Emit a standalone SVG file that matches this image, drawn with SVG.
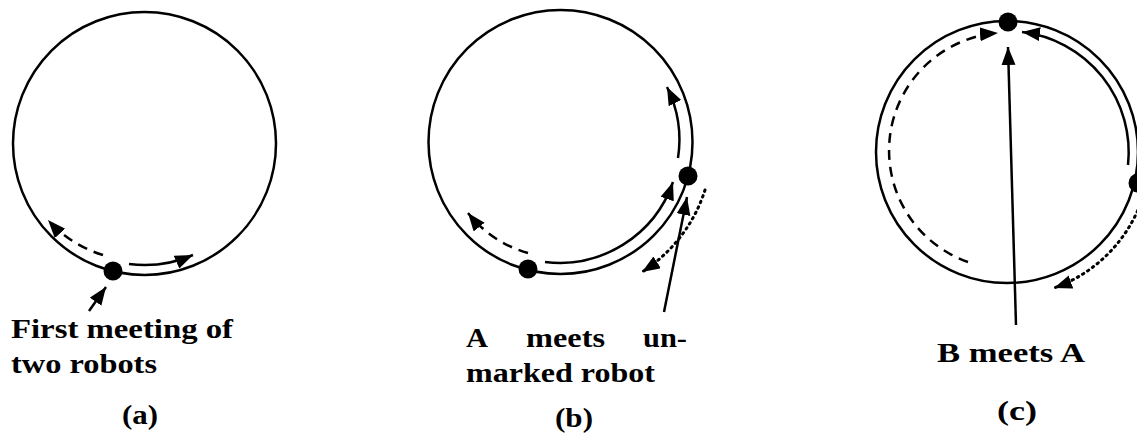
<svg xmlns="http://www.w3.org/2000/svg" width="1137" height="435" viewBox="0 0 1137 435">
<style>
.ring{fill:none;stroke:#000;stroke-width:2.5}
.arc{fill:none;stroke:#000;stroke-width:2.5}
.dash{stroke-dasharray:10 7}
.dot{stroke-dasharray:1.5 4.5;stroke-linecap:round;stroke-width:3}
.robot{fill:#000}
.lbl{font-family:"Liberation Serif","DejaVu Serif",serif;font-weight:bold;font-size:27px;fill:#000}
</style>
<defs>
<marker id="ah" markerUnits="userSpaceOnUse" markerWidth="20" markerHeight="16" refX="18" refY="7" orient="auto">
<path d="M0,0 L18,7 L0,14 Z" fill="#000"/>
</marker>
</defs>
<rect width="1137" height="435" fill="#fff"/>
<g id="panel-a">
<circle class="ring" cx="144.5" cy="143.5" r="131.5"/>
<circle class="robot" cx="113" cy="271" r="9.5"/>
<text class="lbl" x="11" y="338" textLength="222" lengthAdjust="spacingAndGlyphs">First meeting of</text>
<text class="lbl" x="11" y="373" textLength="146" lengthAdjust="spacingAndGlyphs">two robots</text>
<text class="lbl" x="140" y="424" textLength="36" lengthAdjust="spacingAndGlyphs" text-anchor="middle">(a)</text>
</g>
<g id="panel-b">
<circle class="ring" cx="560.5" cy="142" r="132"/>
<circle class="robot" cx="528" cy="269" r="9.5"/>
<circle class="robot" cx="688" cy="176" r="9.5"/>
<text class="lbl" x="466" y="347" textLength="22" lengthAdjust="spacingAndGlyphs">A</text>
<text class="lbl" x="526" y="347" textLength="79" lengthAdjust="spacingAndGlyphs">meets</text>
<text class="lbl" x="643" y="347" textLength="44" lengthAdjust="spacingAndGlyphs">un-</text>
<text class="lbl" x="466" y="382" textLength="189" lengthAdjust="spacingAndGlyphs">marked robot</text>
<text class="lbl" x="574" y="427" textLength="38" lengthAdjust="spacingAndGlyphs" text-anchor="middle">(b)</text>
</g>
<g id="panel-c">
<circle class="ring" cx="1007" cy="152" r="131"/>
<circle class="robot" cx="1008" cy="22" r="9.5"/>
<circle class="robot" cx="1138" cy="183" r="9.5"/>
<text class="lbl" x="937" y="362" textLength="148" lengthAdjust="spacingAndGlyphs">B meets A</text>
<text class="lbl" x="1017" y="420" textLength="40" lengthAdjust="spacingAndGlyphs" text-anchor="middle">(c)</text>
</g>
<g id="connectors">
<path class="arc" d="M129,264 A121.5,121.5 0 0 0 193,255" marker-end="url(#ah)"/>
<path class="arc dash" d="M103,255 A121,121 0 0 1 48,220" marker-end="url(#ah)"/>
<line class="arc" x1="89" y1="311" x2="106" y2="287" marker-end="url(#ah)"/>
<path class="arc" d="M545,262 A120,120 0 0 0 673,182" marker-end="url(#ah)"/>
<path class="arc" d="M678,158 A119.5,119.5 0 0 0 667,87" marker-end="url(#ah)"/>
<path class="arc dash" d="M528,253 A116,116 0 0 1 468,213" marker-end="url(#ah)"/>
<path class="arc dot" d="M705,190 A152,152 0 0 1 642,272" marker-end="url(#ah)"/>
<line class="arc" x1="664" y1="312" x2="687" y2="197" marker-end="url(#ah)"/>
<path class="arc dash" d="M968,262 A118,118 0 0 1 998,33" marker-end="url(#ah)"/>
<path class="arc" d="M1128,165 A121,121 0 0 0 1022,32" marker-end="url(#ah)"/>
<path class="arc dot" d="M1140,205 A144,144 0 0 1 1054,288" marker-end="url(#ah)"/>
<line class="arc" x1="1016" y1="325" x2="1008" y2="47" marker-end="url(#ah)"/>
</g>
</svg>
